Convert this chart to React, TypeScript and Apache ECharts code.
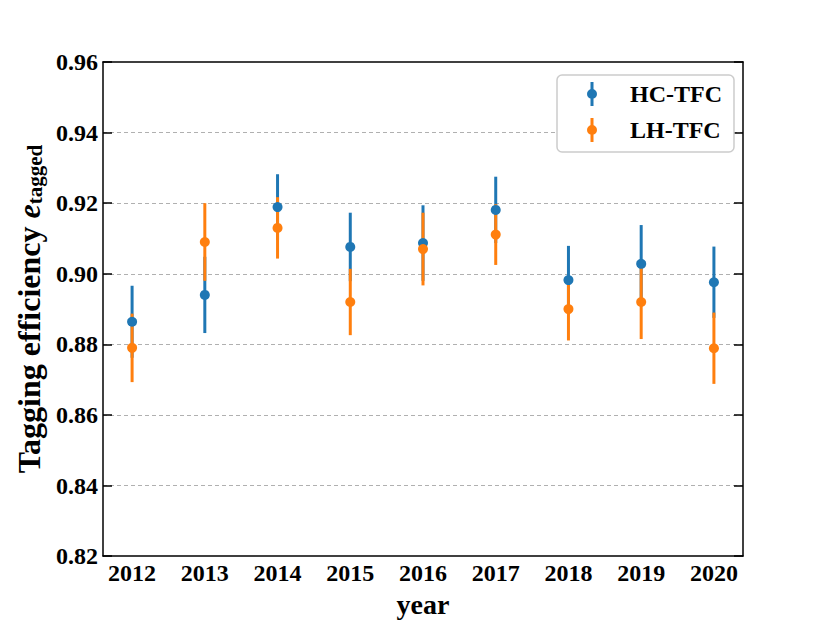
import React, { useEffect, useRef } from "react";
import * as echarts from "echarts";

const years = [2012, 2013, 2014, 2015, 2016, 2017, 2018, 2019, 2020];
const hcValues = [0.8864, 0.894, 0.9189, 0.9076, 0.9087, 0.9181, 0.8982, 0.9028, 0.8976];
const hcErrors = [0.0102, 0.0108, 0.0093, 0.0097, 0.0107, 0.0094, 0.0097, 0.011, 0.0101];
const lhValues = [0.879, 0.909, 0.913, 0.892, 0.907, 0.9111, 0.89, 0.892, 0.8789];
const lhErrors = [0.0097, 0.011, 0.0087, 0.0094, 0.0103, 0.0086, 0.0089, 0.0105, 0.0101];
const yTicks = [0.82, 0.84, 0.86, 0.88, 0.9, 0.92, 0.94, 0.96];

const BLUE = "#1f77b4";
const ORANGE = "#ff7f0e";
const FONT = "'Liberation Serif', 'DejaVu Serif', 'Times New Roman', serif";
const ICON =
  "path://M3.5,0h3v24h-3z M0,12a5,5 0 1,1 10,0a5,5 0 1,1 -10,0z";

function errData(vals: number[], errs: number[]) {
  return years.map((y, i) => [y, vals[i] - errs[i], vals[i] + errs[i]]);
}

function errSeries(name: string, color: string, vals: number[], errs: number[]) {
  return {
    type: "custom",
    name,
    color,
    data: errData(vals, errs),
    encode: { x: 0, y: [1, 2] },
    renderItem: (params: any, api: any) => {
      const x = api.value(0);
      const p1 = api.coord([x, api.value(1)]);
      const p2 = api.coord([x, api.value(2)]);
      return {
        type: "line",
        shape: { x1: p1[0], y1: p1[1], x2: p2[0], y2: p2[1] },
        style: { stroke: color, lineWidth: 3 },
      };
    },
    z: 3,
  };
}

function dotSeries(name: string, color: string, vals: number[]) {
  return {
    type: "scatter",
    name,
    color,
    symbol: "circle",
    symbolSize: 10,
    itemStyle: { color, opacity: 1 },
    data: years.map((y, i) => [y, vals[i]]),
    z: 3,
  };
}

export default function App() {
  const ref = useRef<HTMLDivElement>(null);
  useEffect(() => {
    document.body.style.margin = "0";
    const chart = echarts.init(ref.current!, null, { renderer: "svg" });
    chart.setOption({
      animation: false,
      backgroundColor: "#ffffff",
      grid: { left: 103, right: 87, top: 62, bottom: 62, containLabel: false },
      legend: {
        left: 557,
        top: 75,
        orient: "vertical",
        backgroundColor: "#ffffff",
        borderColor: "#cccccc",
        borderWidth: 1.5,
        borderRadius: 5,
        padding: [7, 12, 10, 30],
        itemGap: 12,
        itemWidth: 10,
        itemHeight: 24,
        textStyle: {
          fontFamily: FONT,
          fontWeight: "bold",
          fontSize: 24,
          color: "#000",
          padding: [0, 0, 0, 28],
        },
        data: [
          { name: "HC-TFC", icon: ICON, itemStyle: { color: BLUE } },
          { name: "LH-TFC", icon: ICON, itemStyle: { color: ORANGE } },
        ],
      },
      xAxis: [
        {
          type: "value",
          min: 2011.6,
          max: 2020.4,
          position: "bottom",
          name: "year",
          nameLocation: "middle",
          nameGap: 30,
          nameTextStyle: { fontFamily: FONT, fontWeight: "bold", fontSize: 28, color: "#000" },
          axisLine: { show: true, onZero: false, lineStyle: { color: "#000", width: 1.5 } },
          axisTick: { show: false },
          splitLine: { show: false },
          axisLabel: {
            customValues: years,
            formatter: (v: number) => String(Math.round(v)),
            fontFamily: FONT,
            fontWeight: "bold",
            fontSize: 24,
            color: "#000",
            margin: 5,
          },
        },
        {
          type: "value",
          min: 2011.6,
          max: 2020.4,
          position: "top",
          axisLine: { show: true, onZero: false, lineStyle: { color: "#000", width: 1.5 } },
          axisTick: { show: false },
          axisLabel: { show: false },
          splitLine: { show: false },
        },
      ],
      yAxis: [
        {
          type: "value",
          min: 0.82,
          max: 0.96,
          interval: 0.02,
          position: "left",
          name: "{a|Tagging efficiency }{b|e}{c|tagged}",
          nameLocation: "middle",
          nameGap: 54,
          nameTextStyle: {
            color: "#000",
            rich: {
              a: { fontFamily: FONT, fontWeight: "bold", fontSize: 32, color: "#000", verticalAlign: "bottom", lineHeight: 38 },
              b: { fontFamily: FONT, fontWeight: "bold", fontStyle: "italic", fontSize: 32, color: "#000", verticalAlign: "bottom", lineHeight: 38 },
              c: { fontFamily: FONT, fontWeight: "bold", fontSize: 21, color: "#000", verticalAlign: "bottom", lineHeight: 28 },
            },
          },
          axisLine: { show: true, onZero: false, lineStyle: { color: "#000", width: 1.5 } },
          axisTick: { show: true, inside: true, length: 9, lineStyle: { color: "#000", width: 1.5 } },
          axisLabel: {
            customValues: yTicks,
            formatter: (v: number) => v.toFixed(2),
            fontFamily: FONT,
            fontWeight: "bold",
            fontSize: 24,
            color: "#000",
            margin: 5,
          },
          splitLine: {
            show: true,
            showMinLine: false,
            showMaxLine: false,
            lineStyle: { color: "#b0b0b0", type: [4, 3], width: 1 },
          },
        },
        {
          type: "value",
          min: 0.82,
          max: 0.96,
          interval: 0.02,
          position: "right",
          axisLine: { show: true, onZero: false, lineStyle: { color: "#000", width: 1.5 } },
          axisTick: { show: true, inside: true, length: 9, lineStyle: { color: "#000", width: 1.5 } },
          axisLabel: { show: false },
          splitLine: { show: false },
        },
      ],
      series: [
        errSeries("HC-TFC", BLUE, hcValues, hcErrors),
        dotSeries("HC-TFC", BLUE, hcValues),
        errSeries("LH-TFC", ORANGE, lhValues, lhErrors),
        dotSeries("LH-TFC", ORANGE, lhValues),
      ],
    });
    return () => chart.dispose();
  }, []);
  return <div ref={ref} style={{ width: 830, height: 623 }} />;
}
